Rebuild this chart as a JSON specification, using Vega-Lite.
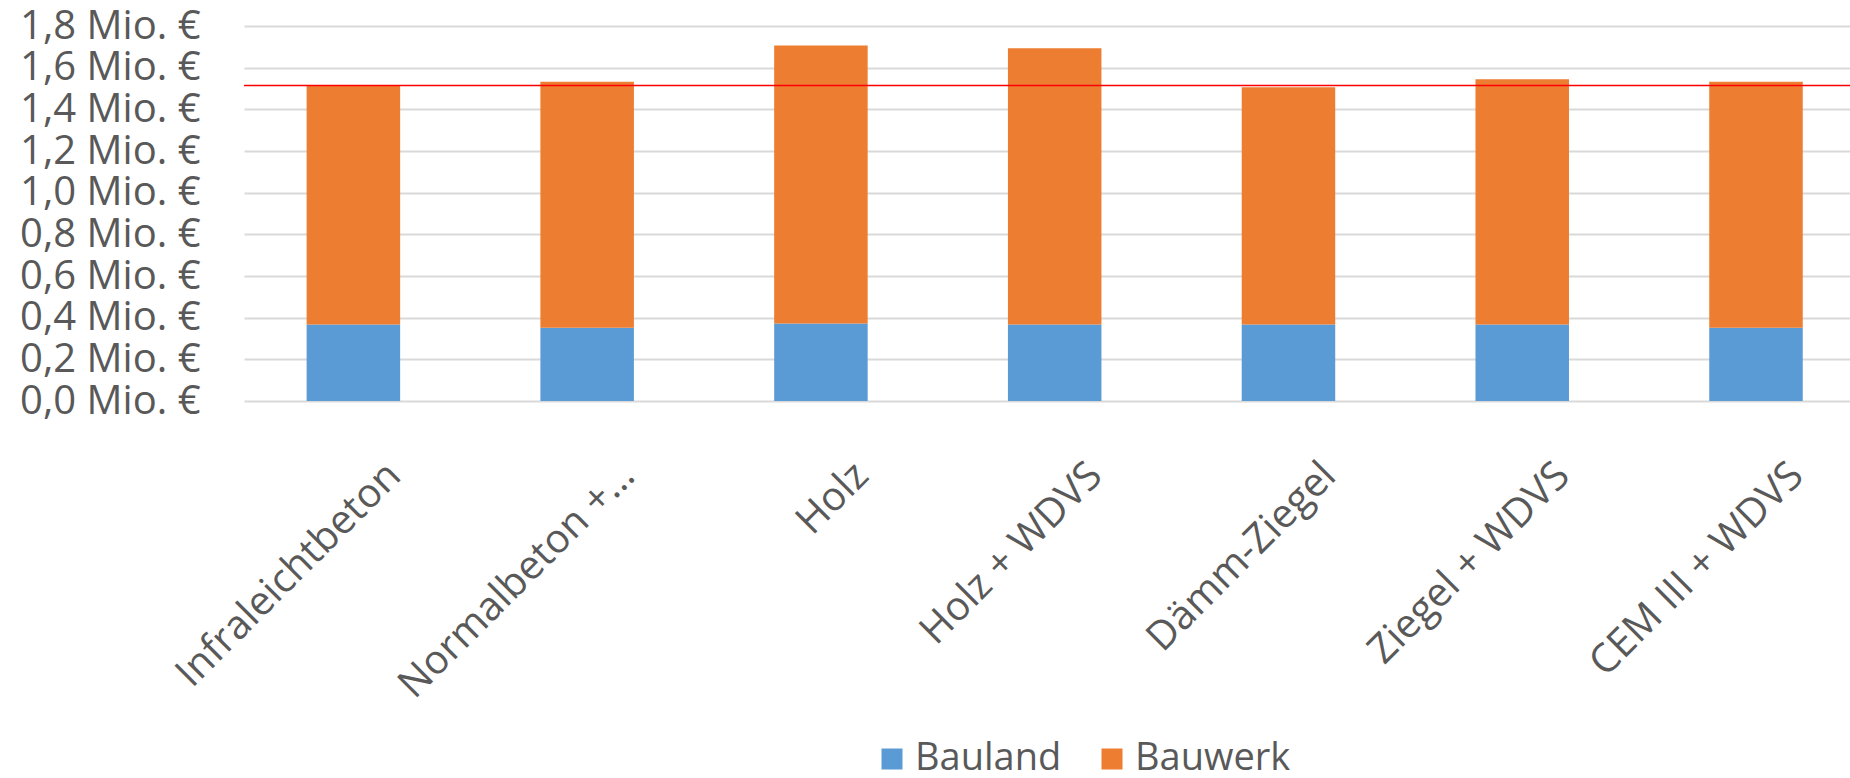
{
  "$schema": "https://vega.github.io/schema/vega-lite/v6.json",
  "autosize": {"type": "none"},
  "padding": {"left": 244, "top": 26, "right": 0, "bottom": 377},
  "width": 1606,
  "height": 375,
  "background": "white",
  "config": {
    "view": {"stroke": null},
    "font": "Open Sans",
    "axis": {"labelFont": "Open Sans", "labelColor": "#595959", "labelFontSize": 40, "labelLimit": 0}
  },
  "layer": [
    {
      "data": {
        "values": [
          {"Bauart": "Infraleichtbeton", "Kategorie": "Bauland", "Kosten": 0.367},
          {"Bauart": "Infraleichtbeton", "Kategorie": "Bauwerk", "Kosten": 1.149},
          {"Bauart": "Normalbeton +…", "Kategorie": "Bauland", "Kosten": 0.352},
          {"Bauart": "Normalbeton +…", "Kategorie": "Bauwerk", "Kosten": 1.181},
          {"Bauart": "Holz", "Kategorie": "Bauland", "Kosten": 0.372},
          {"Bauart": "Holz", "Kategorie": "Bauwerk", "Kosten": 1.334},
          {"Bauart": "Holz + WDVS", "Kategorie": "Bauland", "Kosten": 0.367},
          {"Bauart": "Holz + WDVS", "Kategorie": "Bauwerk", "Kosten": 1.326},
          {"Bauart": "Dämm-Ziegel", "Kategorie": "Bauland", "Kosten": 0.367},
          {"Bauart": "Dämm-Ziegel", "Kategorie": "Bauwerk", "Kosten": 1.139},
          {"Bauart": "Ziegel + WDVS", "Kategorie": "Bauland", "Kosten": 0.367},
          {"Bauart": "Ziegel + WDVS", "Kategorie": "Bauwerk", "Kosten": 1.178},
          {"Bauart": "CEM III + WDVS", "Kategorie": "Bauland", "Kosten": 0.352},
          {"Bauart": "CEM III + WDVS", "Kategorie": "Bauwerk", "Kosten": 1.181}
        ]
      },
      "mark": {"type": "bar"},
      "encoding": {
        "x": {
          "field": "Bauart",
          "type": "nominal",
          "sort": null,
          "scale": {"paddingInner": 0.6, "paddingOuter": 0.235, "align": 0.57},
          "axis": {
            "title": null,
            "labelAngle": -45,
            "labelAlign": "right",
            "labelBaseline": "middle",
            "labelOffset": 41,
            "labelPadding": 68,
            "ticks": false,
            "tickSize": 0,
            "domain": false,
            "grid": false
          }
        },
        "y": {
          "field": "Kosten",
          "type": "quantitative",
          "stack": "zero",
          "scale": {"domain": [0, 1.8], "nice": false},
          "axis": {
            "title": null,
            "values": [0, 0.2, 0.4, 0.6, 0.8, 1.0, 1.2, 1.4, 1.6, 1.8],
            "labelExpr": "replace(format(datum.value, '.1f'), '.', ',') + ' Mio. €'",
            "labelPadding": 44,
            "labelBaseline": "middle",
            "ticks": false,
            "tickSize": 0,
            "domain": false,
            "grid": true,
            "gridColor": "#d9d9d9",
            "gridWidth": 2
          }
        },
        "color": {
          "field": "Kategorie",
          "type": "nominal",
          "scale": {"domain": ["Bauland", "Bauwerk"], "range": ["#5b9bd5", "#ed7d31"]},
          "legend": {
            "title": null,
            "orient": "none",
            "direction": "horizontal",
            "legendX": 629,
            "legendY": 714,
            "symbolType": "square",
            "symbolSize": 441,
            "symbolStrokeWidth": 0,
            "labelFont": "Open Sans",
            "labelFontSize": 38,
            "labelColor": "#595959",
            "labelLimit": 400,
            "labelOffset": 4,
            "columnPadding": 31
          }
        },
        "order": {"field": "Kategorie", "sort": "ascending"}
      }
    },
    {
      "data": {"values": [{"Referenz": 1.515}]},
      "mark": {"type": "rule", "color": "#ff0000", "strokeWidth": 1.5},
      "encoding": {
        "y": {"field": "Referenz", "type": "quantitative"}
      }
    }
  ]
}
